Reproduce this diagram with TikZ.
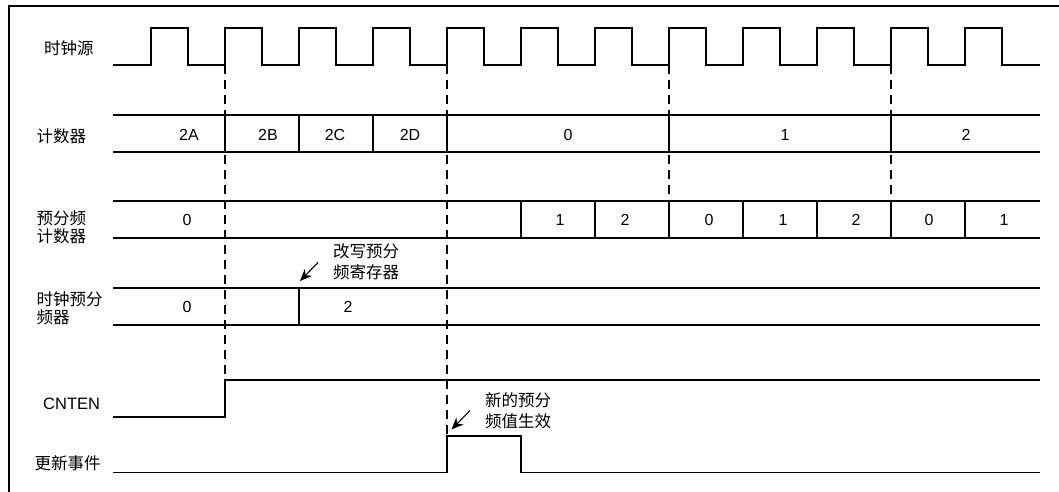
\documentclass[tikz,border=0pt]{standalone}
\usepackage{fontspec}
\setmainfont{Liberation Sans}
\newfontfamily\cjk{Noto Sans CJK SC}
\usetikzlibrary{arrows.meta}
\begin{document}
\begin{tikzpicture}[x=1pt,y=-1pt,
  wave/.style={line width=1.2pt, black},
  guide/.style={line width=2.8pt, dash pattern=on 9pt off 6pt},
  frameline/.style={line width=2.2pt},
  lab/.style={font=\fontsize{16.5}{18}\selectfont\cjk, anchor=west, inner sep=0pt, align=left},
  latlab/.style={font=\fontsize{16.5}{18}\selectfont, anchor=west, inner sep=0pt},
  note/.style={font=\fontsize{16.5}{21}\selectfont\cjk, anchor=west, inner sep=0pt, align=left},
  val/.style={font=\fontsize{16}{18}\selectfont, inner sep=0pt},
  pointer/.style={line width=1.1pt, -{Stealth[length=12pt,width=10pt]}}
]
\useasboundingbox (0,0) rectangle (1059,491);
% frame (only left and top edges fall inside the picture)
\draw[frameline] (9,500) -- (9,6) -- (1070,6);

% clock source
\draw[wave] (112.5,65) \foreach \i in {0,...,11} { -- ({151+74*\i},65) -- ({151+74*\i},28) -- ({188+74*\i},28) -- ({188+74*\i},65) } -- (1040,65);

% bus rows
\foreach \t/\b in {115/152, 201/238, 288/325} {
  \draw[wave] (112.5,\t) -- (1040,\t);
  \draw[wave] (112.5,\b) -- (1040,\b);
}
% counter boundaries
\foreach \x in {225,299,373,447,669,891} \draw[wave] (\x,115) -- (\x,152);
% prescaler counter boundaries
\foreach \x in {521,595,669,743,817,891,965} \draw[wave] (\x,201) -- (\x,238);
% clock prescaler boundary
\draw[wave] (299,288) -- (299,325);

% CNTEN
\draw[wave] (112.5,417) -- (225,417) -- (225,380) -- (1040,380);
% update event
\draw[wave] (112.5,472.5) -- (447,472.5) -- (447,436) -- (521,436) -- (521,472.5) -- (1040,472.5);

% dashed guides
\draw[guide] (225,65) -- (225,380);
\draw[guide] (447,65) -- (447,436);
\draw[guide] (669,65) -- (669,201);
\draw[guide] (891,65) -- (891,201);

% left labels
\node[lab] (lclk) at (44,48.5) {时钟源};
\node[lab] (lcnt) at (36.5,136) {计数器};
\node[lab] (lpsc) at (36.5,227) {预分频\\计数器};
\node[lab] (lpre) at (36.5,308.5) {时钟预分\\频器};
\node[latlab] (lcen) at (43,404) {CNTEN};
\node[lab] (lupd) at (34.5,463) {更新事件};

% counter values
\node[val] (c1) at (189,134.5) {2A};
\node[val] (c2) at (268,134.5) {2B};
\node[val] (c3) at (335,134.5) {2C};
\node[val] (c4) at (410,134.5) {2D};
\node[val] (c5) at (568,134.5) {0};
\node[val] (c6) at (785,134.5) {1};
\node[val] (c7) at (966,134.5) {2};

% prescaler counter values
\node[val] (p1) at (187,220) {0};
\node[val] (p2) at (560,220) {1};
\node[val] (p3) at (625,220) {2};
\node[val] (p4) at (709,220) {0};
\node[val] (p5) at (783,220) {1};
\node[val] (p6) at (856,220) {2};
\node[val] (p7) at (929,220) {0};
\node[val] (p8) at (1004,220) {1};

% clock prescaler values
\node[val] (r1) at (187,307) {0};
\node[val] (r2) at (348,307) {2};

% annotations
\node[note] (n1) at (333,262) {改写预分\\频寄存器};
\node[note] (n2) at (485,411) {新的预分\\频值生效};
\coordinate (a1s) at (318,262.5);
\coordinate (a1e) at (300,281);
\coordinate (a2s) at (470,410.5);
\coordinate (a2e) at (451.5,429.5);
\draw[pointer] (a1s) -- (a1e);
\draw[pointer] (a2s) -- (a2e);
\end{tikzpicture}
\end{document}
